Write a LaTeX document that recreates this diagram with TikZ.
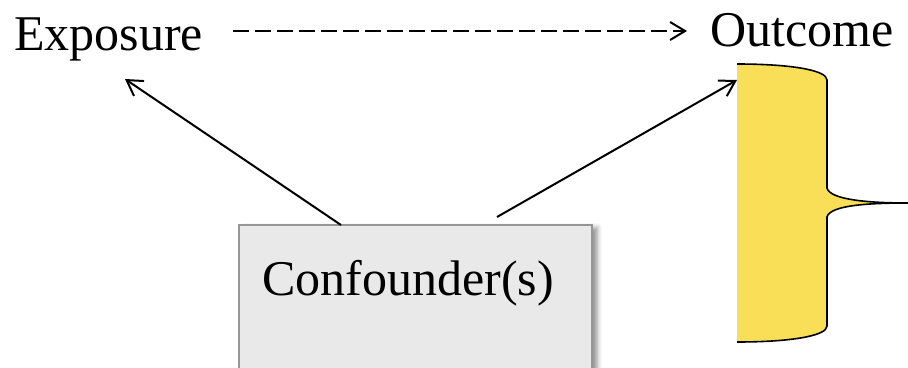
\documentclass[tikz,border=0pt]{standalone}
\usepackage{fontspec}
\setmainfont{Liberation Serif}
\usetikzlibrary{arrows.meta,shadows.blur}
\definecolor{braceyellow}{RGB}{249,222,88}
\definecolor{boxfill}{RGB}{233,233,233}
\definecolor{boxline}{RGB}{150,150,150}
\tikzset{
  lbl/.style={inner sep=0pt, anchor=base west, font=\fontsize{50}{56}\selectfont},
  link/.style={line width=2pt, -{Straight Barb[length=15pt,width=18pt,line width=2pt]}},
}
\begin{document}
\begin{tikzpicture}[x=1pt,y=-1pt]
\useasboundingbox (0,0) rectangle (908,367);
\clip (0,0) rectangle (908,367);
% labels
\node[lbl] (exposure) at (14,50) {Exposure};
\node[lbl] (outcome) at (710,46) {Outcome};
% confounder box
\node[draw=boxline, line width=2pt, fill=boxfill, minimum width=353pt, minimum height=170pt,
      anchor=north west, inner sep=0pt,
      blur shadow={shadow xshift=5pt, shadow yshift=-3pt, shadow blur radius=5pt, shadow opacity=45}]
      (conf) at (238,224) {};
\node[lbl] (conftext) at (262,295) {Confounder(s)};
% brace
\draw[fill=braceyellow, line width=1.6pt]
  (737,64) .. controls (790,64) and (827,70) .. (827,80)
  -- (827,188) .. controls (830,200) and (870,203) .. (908,203)
  .. controls (870,203) and (830,205) .. (827,217)
  -- (827,326) .. controls (827,336) and (790,342) .. (737,342);
\fill[braceyellow] (737,64.8) rectangle (740,341.2);
\coordinate (brace) at (737,203);
% connectors
\coordinate (confL) at (341,225);
\coordinate (confR) at (497,217);
\coordinate (expoTip) at (125,79);
\coordinate (outTip) at (737,80);
\coordinate (dashS) at (233,31);
\coordinate (dashE) at (687,31);
\draw[link] (confL) -- (expoTip);
\draw[link] (confR) -- (outTip);
\draw[link, dash pattern=on 16pt off 6pt] (dashS) -- (dashE);
\end{tikzpicture}
\end{document}
